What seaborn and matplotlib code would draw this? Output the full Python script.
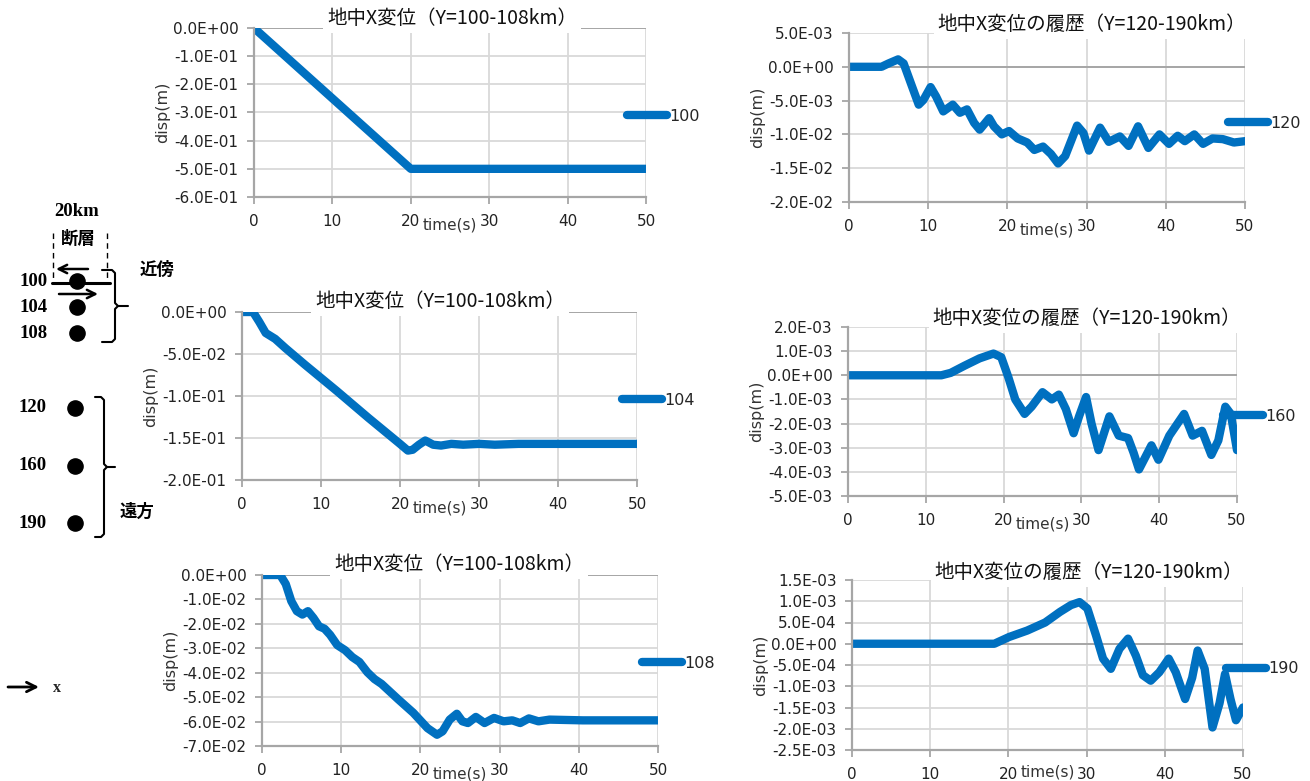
import numpy as np
import pandas as pd
import matplotlib
matplotlib.use('Agg')
import matplotlib.pyplot as plt
import seaborn as sns
from matplotlib.ticker import FixedLocator, FuncFormatter

sns.set_theme(style='white')
plt.rcParams['font.family'] = ['DejaVu Sans', 'Noto Sans CJK JP']

W, H = 1310, 781
BLUE = '#0070C0'
GRID = '#d9d9d9'
AXIS = '#a6a6a6'

# ---- data ----
title_near = '地中X変位（Y=100-108km）'
title_far = '地中X変位の履歴（Y=120-190km）'
xticks = [0, 10, 20, 30, 40, 50]

t100 = [0, 20, 50]
d100 = [0.0, -0.5, -0.5]
yt100 = [0, -0.1, -0.2, -0.3, -0.4, -0.5, -0.6]

t104 = [0, 1.4, 2.2, 3.0, 4.2, 5.5, 8, 12, 16, 20, 21, 21.6, 22.4, 23.2, 24.2,
        25.2, 26.5, 28, 30, 32, 35, 50]
d104 = [0, 0, -0.012, -0.025, -0.032, -0.043, -0.063, -0.094, -0.126, -0.157,
        -0.165, -0.164, -0.158, -0.153, -0.158, -0.159, -0.157, -0.158, -0.157,
        -0.158, -0.157, -0.157]
yt104 = [0, -0.05, -0.1, -0.15, -0.2]

t108 = [0, 2.3, 3.0, 3.7, 4.4, 5.1, 5.8, 6.5, 7.2, 7.9, 8.6, 9.5, 10.5, 11.4,
        12.3, 13.3, 14.2, 15.1, 17.2, 19.1, 20.9, 22.1, 22.8, 23.7, 24.6, 25.3,
        26.0, 27.0, 28.1, 29.3, 30.5, 31.6, 32.6, 33.7, 34.9, 36.3, 40.5, 50]
d108 = [0, 0, -0.0037, -0.0107, -0.0148, -0.0162, -0.0148, -0.0176, -0.021,
        -0.022, -0.0245, -0.0287, -0.0308, -0.0336, -0.0356, -0.0398, -0.0426,
        -0.0446, -0.0509, -0.0564, -0.0627, -0.0654, -0.064, -0.0592, -0.0568,
        -0.0599, -0.0606, -0.0581, -0.0606, -0.0585, -0.0599, -0.0595, -0.0606,
        -0.0587, -0.0599, -0.0592, -0.0595, -0.0595]
yt108 = [0, -0.01, -0.02, -0.03, -0.04, -0.05, -0.06, -0.07]

t120 = [0, 4.1, 5.0, 6.2, 6.9, 7.8, 8.8, 9.4, 10.3, 11.0, 11.9, 13.1, 14.0, 14.9,
        15.8, 16.5, 17.7, 18.3, 19.3, 20.2, 21.3, 22.5, 23.4, 24.5, 25.5, 26.4,
        27.3, 28.8, 29.6, 30.3, 31.7, 32.8, 34.2, 35.3, 36.5, 37.8, 39.2, 40.4,
        41.5, 42.4, 43.6, 44.7, 45.9, 47.2, 48.6, 50]
d120 = [0, 0, 0.0005, 0.0011, 0.0005, -0.0024, -0.0056, -0.0049, -0.003,
        -0.0044, -0.0066, -0.0056, -0.0068, -0.0063, -0.0083, -0.0093, -0.0076,
        -0.0088, -0.01, -0.0095, -0.0106, -0.0112, -0.0123, -0.0118, -0.0129,
        -0.0143, -0.0132, -0.0087, -0.0098, -0.0124, -0.009, -0.0111, -0.0103,
        -0.0117, -0.0088, -0.012, -0.01, -0.0114, -0.0102, -0.011, -0.01,
        -0.0114, -0.0106, -0.0107, -0.0112, -0.011]
yt120 = [0.005, 0, -0.005, -0.01, -0.015, -0.02]

t160 = [0, 12.0, 13.2, 15.0, 16.9, 18.7, 19.7, 20.6, 21.5, 22.7, 23.6, 25.0,
        26.2, 27.1, 28.0, 29.0, 29.7, 30.6, 31.3, 32.2, 33.6, 34.8, 36.0, 36.7,
        37.4, 39.0, 39.9, 41.3, 43.2, 44.3, 45.5, 46.7, 47.6, 48.5, 49.2, 50]
d160 = [0, 0, 0.0001, 0.0004, 0.0007, 0.0009, 0.00075, -0.00007, -0.001,
        -0.0016, -0.0013, -0.0007, -0.001, -0.0008, -0.0014, -0.0024, -0.0017,
        -0.0009, -0.002, -0.0031, -0.0017, -0.0025, -0.0026, -0.0032, -0.0039,
        -0.0029, -0.0035, -0.0025, -0.0016, -0.0025, -0.0023, -0.0033, -0.0027,
        -0.0013, -0.0016, -0.0031]
yt160 = [0.002, 0.001, 0, -0.001, -0.002, -0.003, -0.004, -0.005]

t190 = [0, 18.2, 20.1, 22.4, 24.7, 26.6, 28.0, 29.1, 30.1, 31.2, 32.1, 33.1,
        34.2, 35.3, 36.3, 37.2, 38.2, 39.3, 40.5, 41.4, 42.6, 43.5, 44.2, 45.1,
        46.1, 47.0, 47.7, 48.4, 49.1, 50]
d190 = [0, 0, 0.00016, 0.00031, 0.0005, 0.00075, 0.00091, 0.00098, 0.00083,
        0.0002, -0.00035, -0.00059, -0.00012, 0.00012, -0.00028, -0.00074,
        -0.00087, -0.00067, -0.00035, -0.00067, -0.0013, -0.0008, -0.00016,
        -0.00059, -0.00197, -0.0014, -0.00071, -0.0013, -0.0018, -0.0015]
yt190 = [0.0015, 0.001, 0.0005, 0, -0.0005, -0.001, -0.0015, -0.002, -0.0025]

near_labels = ['100', '104', '108']
far_labels = ['120', '160', '190']


def sci(v, pos=None):
    if abs(v) < 1e-12:
        return '0.0E+00'
    return f'{v:.1E}'


fig = plt.figure(figsize=(W / 100, H / 100), dpi=100)
fig.patch.set_facecolor('white')

# overlay for the station sketch on the left
ov = fig.add_axes([0, 0, 1, 1])
ov.set_xlim(0, W)
ov.set_ylim(H, 0)
ov.axis('off')
ov.patch.set_alpha(0)


def panel(box, t, d, yt, name, title, tpos, lpos, toff=-28):
    l, r, top, bot = box
    ax = fig.add_axes([l / W, 1 - bot / H, (r - l) / W, (bot - top) / H])
    df = pd.DataFrame({'time': t, 'disp': d})
    sns.lineplot(data=df, x='time', y='disp', ax=ax, color=BLUE, lw=6,
                 label=name, estimator=None, sort=False)
    for ln in ax.get_lines():
        ln.set_solid_joinstyle('round')
    ax.set_xlim(0, 50)
    ax.set_ylim(min(yt), max(yt))
    ax.xaxis.set_major_locator(FixedLocator(xticks))
    ax.yaxis.set_major_locator(FixedLocator(yt))
    ax.yaxis.set_major_formatter(FuncFormatter(sci))
    ax.grid(True, color=GRID, lw=1.3)
    ax.set_axisbelow(True)
    ax.axhline(0, color=AXIS, lw=1.4, zorder=1.5)
    for s in ['top', 'right']:
        ax.spines[s].set_visible(False)
    for s in ['left', 'bottom']:
        ax.spines[s].set_color(AXIS)
        ax.spines[s].set_linewidth(1.6)
    ax.tick_params(axis='both', length=5, width=1.3, color=AXIS,
                   labelsize=11, labelcolor='#222222')
    ax.tick_params(axis='y', pad=6, left=True)
    ax.tick_params(axis='x', pad=7, bottom=True)
    ax.set_xlabel('')
    ax.set_ylabel('')
    ax.annotate('time(s)', xy=(0.5, 0), xycoords='axes fraction',
                xytext=(0, toff), textcoords='offset pixels',
                ha='center', va='center', fontsize=11, color='#333333')
    ax.annotate('disp(m)', xy=(0, 0.5), xycoords='axes fraction',
                xytext=(-91, 0), textcoords='offset pixels', rotation=90,
                ha='center', va='center', fontsize=11.5, color='#333333')
    leg = ax.legend(loc='center left', bbox_to_anchor=lpos, frameon=False,
                    handlelength=2.5, handletextpad=0.15, borderpad=0,
                    borderaxespad=0, fontsize=11.5)
    for ln in leg.get_lines():
        ln.set_solid_capstyle('round')
        ln.set_linewidth(6)
    fig.text(tpos[0] / W, 1 - tpos[1] / H, title, ha='center', va='center',
             fontsize=14, family=['Noto Sans CJK JP'], color='#111111',
             bbox=dict(fc='white', ec='none', pad=3))
    return ax


panel((254, 646, 28, 197), t100, d100, yt100, '100', title_near, (452, 18), (0.952, 0.479))
panel((242, 637, 312, 480), t104, d104, yt104, '104', title_near, (440, 301), (0.962, 0.476))
panel((262, 658, 575, 746), t108, d108, yt108, '108', title_near, (459, 564), (0.96, 0.485))
panel((849, 1245, 33, 202), t120, d120, yt120, '120', title_far, (1092, 24), (0.957, 0.467))
panel((848, 1237, 327, 496), t160, d160, yt160, '160', title_far, (1087, 318), (0.964, 0.473))
panel((852, 1243, 580, 750), t190, d190, yt190, '190', title_far, (1089, 572), (0.957, 0.477),
      toff=-22)

# ---- station sketch ----
serif = dict(family=['Liberation Serif'], weight='bold', fontsize=13.5, color='black')
cjk = dict(family=['Noto Sans CJK JP'], weight='bold', fontsize=12.5, color='black')

ov.text(77, 212, '20km', ha='center', va='center', **serif)
ov.text(78, 239, '断層', ha='center', va='center', **cjk)
ov.plot([53, 53], [233, 281], color='black', lw=1, ls=(0, (4, 3)))
ov.plot([107, 107], [233, 284], color='black', lw=1, ls=(0, (4, 3)))
ov.plot([52, 110], [283, 283], color='black', lw=2.2)
ov.annotate('', xy=(56, 269), xytext=(88, 269),
            arrowprops=dict(arrowstyle='->', lw=1.8, color='black',
                            mutation_scale=15, shrinkA=0, shrinkB=0))
ov.annotate('', xy=(98, 294), xytext=(59, 294),
            arrowprops=dict(arrowstyle='->', lw=1.8, color='black',
                            mutation_scale=15, shrinkA=0, shrinkB=0))

near_y = [281, 307, 333]
far_y = [408, 466, 523]
ov.scatter([77] * 3, near_y, s=120, color='black', zorder=3)
ov.scatter([75] * 3, far_y, s=120, color='black', zorder=3)
for lab, y in zip(near_labels, near_y):
    ov.text(34, y, lab, ha='center', va='center', **serif)
for lab, y in zip(far_labels, far_y):
    ov.text(33, y, lab, ha='center', va='center', **serif)


def brace(x0, x1, ytop, ybot, tip):
    ym = (ytop + ybot) / 2
    xs = [x0, x1 - 3, x1, x1, x1 + 3, x1, x1, x1 - 3, x0]
    ys = [ytop, ytop, ytop + 3, ym - 3, ym, ym + 3, ybot - 3, ybot, ybot]
    ov.plot(xs, ys, color='black', lw=1.5)
    ov.plot([x1 + 3, tip], [ym, ym], color='black', lw=1.5)


brace(102, 115, 270, 342, 128)
brace(95, 104, 397, 537, 115)
ov.text(157, 270, '近傍', ha='center', va='center', **cjk)
ov.text(137, 512, '遠方', ha='center', va='center', **cjk)

ov.annotate('', xy=(39, 687), xytext=(8, 687),
            arrowprops=dict(arrowstyle='->', lw=2, color='black',
                            mutation_scale=17, shrinkA=0, shrinkB=0))
ov.text(57, 688, 'x', ha='center', va='center',
        family=['Liberation Serif'], weight='bold', fontsize=11.5)

fig.savefig('out.png', dpi=100, facecolor='white')
